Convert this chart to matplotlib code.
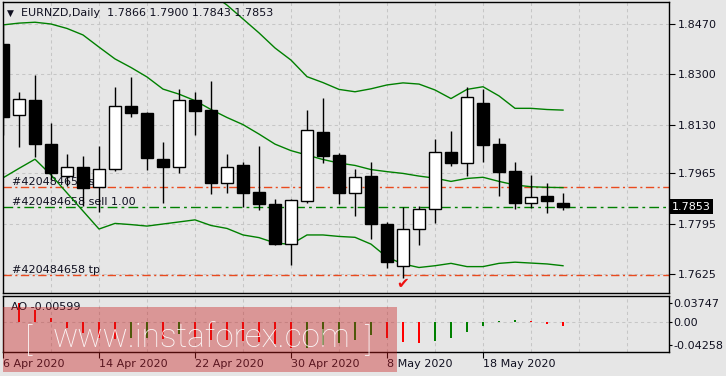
import matplotlib.pyplot as plt
import numpy as np
from matplotlib.patches import Rectangle

plt.rcParams['font.family'] = ['DejaVu Sans']
plt.rcParams['font.size'] = 8

# EURNZD daily candles, 6 Apr 2020 .. 25 May 2020
opens = [1.8402, 1.8161, 1.8213, 1.8063, 1.7957, 1.7986, 1.7920, 1.7979, 1.8192, 1.8168,
         1.8013, 1.7986, 1.8213, 1.8179, 1.7932, 1.7993, 1.7901, 1.7862, 1.7725, 1.7873,
         1.8104, 1.8027, 1.7900, 1.7956, 1.7794, 1.7653, 1.7776, 1.7844, 1.8036, 1.7999,
         1.8202, 1.8063, 1.7972, 1.7864, 1.7889, 1.7866]
highs = [1.8467, 1.8239, 1.8297, 1.8134, 1.8031, 1.8024, 1.8059, 1.8256, 1.8290, 1.8173,
         1.8070, 1.8250, 1.8239, 1.8277, 1.8031, 1.8005, 1.8059, 1.7879, 1.7879, 1.8179,
         1.8219, 1.8033, 1.7979, 1.8003, 1.7802, 1.7853, 1.7855, 1.8081, 1.8108, 1.8256,
         1.8250, 1.8084, 1.8003, 1.7960, 1.7933, 1.7900]
lows = [1.8095, 1.8055, 1.8022, 1.7943, 1.7922, 1.7855, 1.7836, 1.7974, 1.8157, 1.7977,
        1.7864, 1.7965, 1.8095, 1.7894, 1.7900, 1.7853, 1.7841, 1.7723, 1.7655, 1.7866,
        1.7999, 1.7861, 1.7822, 1.7742, 1.7646, 1.7611, 1.7723, 1.7798, 1.7991, 1.7957,
        1.8005, 1.7890, 1.7845, 1.7849, 1.7830, 1.7843]
closes = [1.8156, 1.8217, 1.8063, 1.7966, 1.7986, 1.7917, 1.7979, 1.8192, 1.8168, 1.8018,
          1.7986, 1.8213, 1.8177, 1.7932, 1.7986, 1.7900, 1.7861, 1.7725, 1.7875, 1.8112,
          1.8025, 1.7900, 1.7952, 1.7793, 1.7667, 1.7776, 1.7844, 1.8036, 1.8001, 1.8222,
          1.8062, 1.7971, 1.7864, 1.7886, 1.7873, 1.7853]

# Bollinger bands
bb_upper = [1.8984, 1.8965, 1.8939, 1.8980, 1.9012, 1.9028, 1.9007, 1.8907, 1.8854, 1.8794,
            1.8707, 1.8666, 1.8615, 1.8573, 1.8534, 1.8487, 1.8440, 1.8389, 1.8348, 1.8292,
            1.8272, 1.8249, 1.8241, 1.8251, 1.8264, 1.8271, 1.8267, 1.8247, 1.8218, 1.8249,
            1.8258, 1.8227, 1.8185, 1.8185, 1.8181, 1.8179]
bb_mid = [1.8467, 1.8473, 1.8476, 1.8470, 1.8455, 1.8433, 1.8392, 1.8352, 1.8323, 1.8291,
          1.8250, 1.8233, 1.8211, 1.8181, 1.8154, 1.8130, 1.8098, 1.8064, 1.8042, 1.8027,
          1.8012, 1.8000, 1.7992, 1.7978, 1.7971, 1.7965, 1.7956, 1.7949, 1.7938, 1.7948,
          1.7952, 1.7938, 1.7926, 1.7920, 1.7918, 1.7917]
bb_lower = [1.7950, 1.7982, 1.8013, 1.7960, 1.7899, 1.7838, 1.7777, 1.7796, 1.7792, 1.7787,
            1.7794, 1.7801, 1.7808, 1.7789, 1.7779, 1.7757, 1.7748, 1.7730, 1.7725, 1.7757,
            1.7757, 1.7752, 1.7749, 1.7726, 1.7682, 1.7659, 1.7647, 1.7653, 1.7661, 1.7650,
            1.7650, 1.7661, 1.7665, 1.7662, 1.7659, 1.7653]

# Awesome Oscillator
ao = [0.0341, 0.0270, 0.0174, 0.0055, -0.0078, -0.0159, -0.0231, -0.0240, -0.0231, -0.0221,
      -0.0245, -0.0173, -0.0231, -0.0254, -0.0259, -0.0269, -0.0283, -0.0307, -0.0374, -0.0364,
      -0.0326, -0.0302, -0.0254, -0.0183, -0.0231, -0.0278, -0.0293, -0.0264, -0.0221, -0.0135,
      -0.0050, 0.0022, 0.0036, 0.0017, -0.0026, -0.00599]

date_ticks = [0, 6, 12, 18, 24, 30]
date_labels = ["6 Apr 2020", "14 Apr 2020", "22 Apr 2020", "30 Apr 2020", "8 May 2020", "18 May 2020"]
price_ticks = [1.8470, 1.8300, 1.8130, 1.7965, 1.7795, 1.7625]
price_labels = ["1.8470", "1.8300", "1.8130", "1.7965", "1.7795", "1.7625"]
ao_labels = ["0.03747", "0.00", "-0.04258"]

sl_price = 1.7918
entry_price = 1.7852
tp_price = 1.7621
last_price = 1.7853
order_id = "#420484658"

bg = '#e6e6e6'
grid_col = '#c6c6c6'
W, H = 726, 376

fig = plt.figure(figsize=(W / 100, H / 100), dpi=100, facecolor=bg)
ax = fig.add_axes([3 / W, 1 - 293 / H, 666 / W, 291 / H], facecolor=bg)
ao_ax = fig.add_axes([3 / W, 1 - 352 / H, 666 / W, 56 / H], facecolor=bg)

x = np.arange(len(closes))
xmax = 41.625
grid_x = np.arange(3, 42, 3)

# ---- price panel ----
ax.set_xlim(0, xmax)
ax.set_ylim(1.75608, 1.85444)
for gx in grid_x:
    ax.axvline(gx, color=grid_col, lw=0.75, ls=(0, (3, 3)), zorder=0)
for p in price_ticks:
    ax.axhline(p, color=grid_col, lw=0.75, ls=(0, (3, 3)), zorder=0)

# order lines
ax.axhline(sl_price, color='#ea4a1e', lw=1, ls=(0, (6, 2.5, 1.5, 2.5)), zorder=1)
ax.axhline(tp_price, color='#ea4a1e', lw=1, ls=(0, (6, 2.5, 1.5, 2.5)), zorder=1)
ax.axhline(entry_price, color='#008000', lw=1, ls=(0, (7, 3, 2, 3)), zorder=1)
ax.text(0.56, sl_price, order_id + " sl", va='bottom', ha='left', color='#101020', zorder=1.5)
ax.text(0.56, entry_price, order_id + " sell 1.00", va='bottom', ha='left', color='#101020', zorder=1.5)
ax.text(0.56, tp_price, order_id + " tp", va='bottom', ha='left', color='#101020', zorder=1.5)

# bollinger bands
ax.plot(x, bb_upper, color='#008000', lw=1, zorder=2)
ax.plot(x, bb_mid, color='#008000', lw=1, zorder=2)
ax.plot(x, bb_lower, color='#008000', lw=1, zorder=2)

# candles
opens_a = np.array(opens)
closes_a = np.array(closes)
body_bottom = np.minimum(opens_a, closes_a)
body_h = np.abs(closes_a - opens_a)
body_col = ['white' if c >= o else 'black' for o, c in zip(opens, closes)]
ax.vlines(x, lows, highs, color='black', lw=1, zorder=3)
ax.bar(x, body_h, 0.69, bottom=body_bottom, color=body_col, edgecolor='black', lw=1, zorder=4)

# tp hit mark
ax.text(25, 1.7593, '\u2714', color='#ee1111', fontsize=11, ha='center', va='center', zorder=5)

ax.set_xticks([])
ax.yaxis.tick_right()
ax.set_yticks(price_ticks)
ax.set_yticklabels(price_labels)
ax.tick_params(axis='y', length=4, pad=2.5, colors='black', labelcolor='#101020')
for s in ax.spines.values():
    s.set_color('black')
    s.set_linewidth(1)

ax.text(1.004, last_price, "1.7853", transform=ax.get_yaxis_transform(), color='white',
        va='center', ha='left', zorder=6,
        bbox=dict(facecolor='black', edgecolor='none', boxstyle='square,pad=0.2'))

# header
fig.text(7 / W, 1 - 13 / H, '\u25bc', fontsize=6.5, va='center', ha='left', color='#101020')
fig.text(21 / W, 1 - 13 / H, "EURNZD,Daily  1.7866 1.7900 1.7843 1.7853",
         va='center', ha='left', color='#101020')

# ---- AO panel ----
ao_top, ao_bottom = 0.03747, -0.04258
ao_ax.set_xlim(0, xmax)
ao_ax.set_ylim(ao_bottom, ao_top)
for gx in grid_x:
    ao_ax.axvline(gx, color=grid_col, lw=0.75, ls=(0, (3, 3)), zorder=0)
ao_ax.axhline(0, color=grid_col, lw=0.75, ls=(0, (3, 3)), zorder=0)

ao_colors = ['#ff0000'] + ['#008000' if ao[i] > ao[i - 1] else '#ff0000' for i in range(1, len(ao))]
ao_ax.bar(x, ao, 0.13, color=ao_colors, zorder=2)

span = ao_top - ao_bottom
ao_ax.yaxis.tick_right()
ao_ax.set_yticks([ao_top - span * 7.3 / 56, 0, ao_bottom + span * 7 / 56])
ao_ax.set_yticklabels(ao_labels)
ao_ax.tick_params(axis='y', length=2, pad=1, labelcolor='#101020')
ao_ax.set_xticks(date_ticks)
ao_ax.set_xticklabels(date_labels, ha='left')
ao_ax.tick_params(axis='x', length=4, pad=1, labelcolor='#101020')
for s in ao_ax.spines.values():
    s.set_color('black')
    s.set_linewidth(1)
ao_ax.text(8 / 666, 1 - 10.7 / 56, "AO -0.00599", transform=ao_ax.transAxes,
           va='center', ha='left', color='#101020', zorder=5)

# watermark
fig.patches.append(Rectangle((3 / W, 1 - 372 / H), 394 / W, 65 / H, transform=fig.transFigure,
                             facecolor='#c81e1e', alpha=0.4, edgecolor='none', zorder=10))
fig.text(25 / W, 1 - 351 / H, "[", fontsize=24, family='Roboto', fontweight='light',
         color='white', alpha=0.9, va='baseline', ha='left', zorder=11)
fig.text(53 / W, 1 - 347 / H, "www.instaforex.com", fontsize=24, family='Roboto', fontweight='light',
         color='white', alpha=0.9, va='baseline', ha='left', zorder=11)
fig.text(364 / W, 1 - 351 / H, "]", fontsize=24, family='Roboto', fontweight='light',
         color='white', alpha=0.9, va='baseline', ha='left', zorder=11)

fig.savefig("out.png", dpi=100, facecolor=bg)
